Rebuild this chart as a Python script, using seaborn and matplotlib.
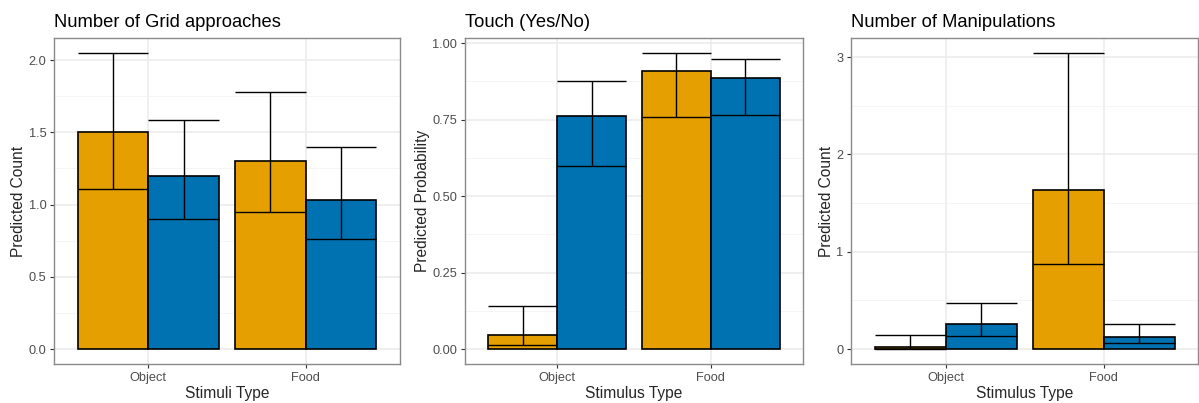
import pandas as pd
import seaborn as sns
import matplotlib.pyplot as plt

# Values
stimuli = ["Object", "Food"]
groups = ["Group 1", "Group 2"]
colors = ["#E69F00", "#0072B2"]

# order: (Object, g1), (Object, g2), (Food, g1), (Food, g2)
grid_pred = [1.505, 1.195, 1.300, 1.030]
grid_lower = [1.105, 0.900, 0.950, 0.760]
grid_upper = [2.050, 1.585, 1.780, 1.400]

touch_pred = [0.045, 0.763, 0.907, 0.887]
touch_lower = [0.012, 0.598, 0.757, 0.766]
touch_upper = [0.142, 0.875, 0.968, 0.948]

manip_pred = [0.025, 0.256, 1.633, 0.130]
manip_lower = [0.005, 0.133, 0.878, 0.065]
manip_upper = [0.143, 0.471, 3.044, 0.256]

panels = [
    ("Number of Grid approaches", "Stimuli Type", "Predicted Count",
     grid_pred, grid_lower, grid_upper, [0, 0.5, 1.0, 1.5, 2.0], "{:.1f}"),
    ("Touch (Yes/No)", "Stimulus Type", "Predicted Probability",
     touch_pred, touch_lower, touch_upper, [0, 0.25, 0.5, 0.75, 1.0], "{:.2f}"),
    ("Number of Manipulations", "Stimulus Type", "Predicted Count",
     manip_pred, manip_lower, manip_upper, [0, 1, 2, 3], "{:.0f}"),
]

sns.set_theme(style="white")
plt.rcParams["font.family"] = ["Liberation Sans", "DejaVu Sans"]

fig = plt.figure(figsize=(11.99, 4.03), dpi=100)
boxes = [(0.0450, 0.3336), (0.3878, 0.6697), (0.7098, 0.9995)]
bottom, top = 0.0968, 0.9057

for (title, xlab, ylab, pred, lower, upper, yticks, fmt), (l, r) in zip(panels, boxes):
    ax = fig.add_axes([l, bottom, r - l, top - bottom])
    df = pd.DataFrame({
        "stim": [s for s in stimuli for _ in groups],
        "group": [g for _ in stimuli for g in groups],
        "pred": pred,
        "lower": lower,
        "upper": upper,
    })
    sns.barplot(data=df, x="stim", y="pred", hue="group", order=stimuli,
                hue_order=groups, palette=colors, saturation=1, width=0.9,
                errorbar=None, edgecolor="black", linewidth=1.2, legend=False,
                ax=ax, zorder=3)

    # error bars spanning each bar's width
    bars = sorted(ax.patches, key=lambda p: p.get_x())
    for p, lo, hi in zip(bars, df["lower"], df["upper"]):
        x0, w = p.get_x(), p.get_width()
        xc = x0 + w / 2
        ax.vlines(xc, lo, hi, color="black", linewidth=1.0, zorder=4)
        ax.hlines([lo, hi], x0, x0 + w, color="black", linewidth=1.0, zorder=4)

    top_val = max(upper)
    ax.set_ylim(-0.05 * top_val, 1.05 * top_val)
    ax.set_xlim(-0.6, 1.6)
    ax.set_yticks(yticks)
    ax.set_yticklabels([fmt.format(t) for t in yticks])
    step = yticks[1] - yticks[0]
    minor = [t + step / 2 for t in yticks if t + step / 2 < 1.05 * top_val]
    ax.set_yticks(minor, minor=True)

    ax.grid(True, which="major", color="#EBEBEB", linewidth=1.1, zorder=0)
    ax.grid(True, which="minor", axis="y", color="#F4F4F4", linewidth=0.6, zorder=0)
    ax.set_axisbelow(True)
    for s in ax.spines.values():
        s.set_color("#8a8a8a")
        s.set_linewidth(1.0)
    ax.tick_params(axis="both", which="major", length=3, width=0.8, color="#333333",
                   labelsize=9.2, labelcolor="#4D4D4D", pad=2.5, left=True, bottom=True)
    ax.tick_params(axis="y", which="minor", length=0)

    ax.set_title(title, loc="left", fontsize=13.2, pad=8, color="black")
    ax.set_xlabel(xlab, fontsize=11.2, labelpad=2)
    ax.set_ylabel(ylab, fontsize=11.2, labelpad=2)

fig.savefig("out.png", dpi=100)
